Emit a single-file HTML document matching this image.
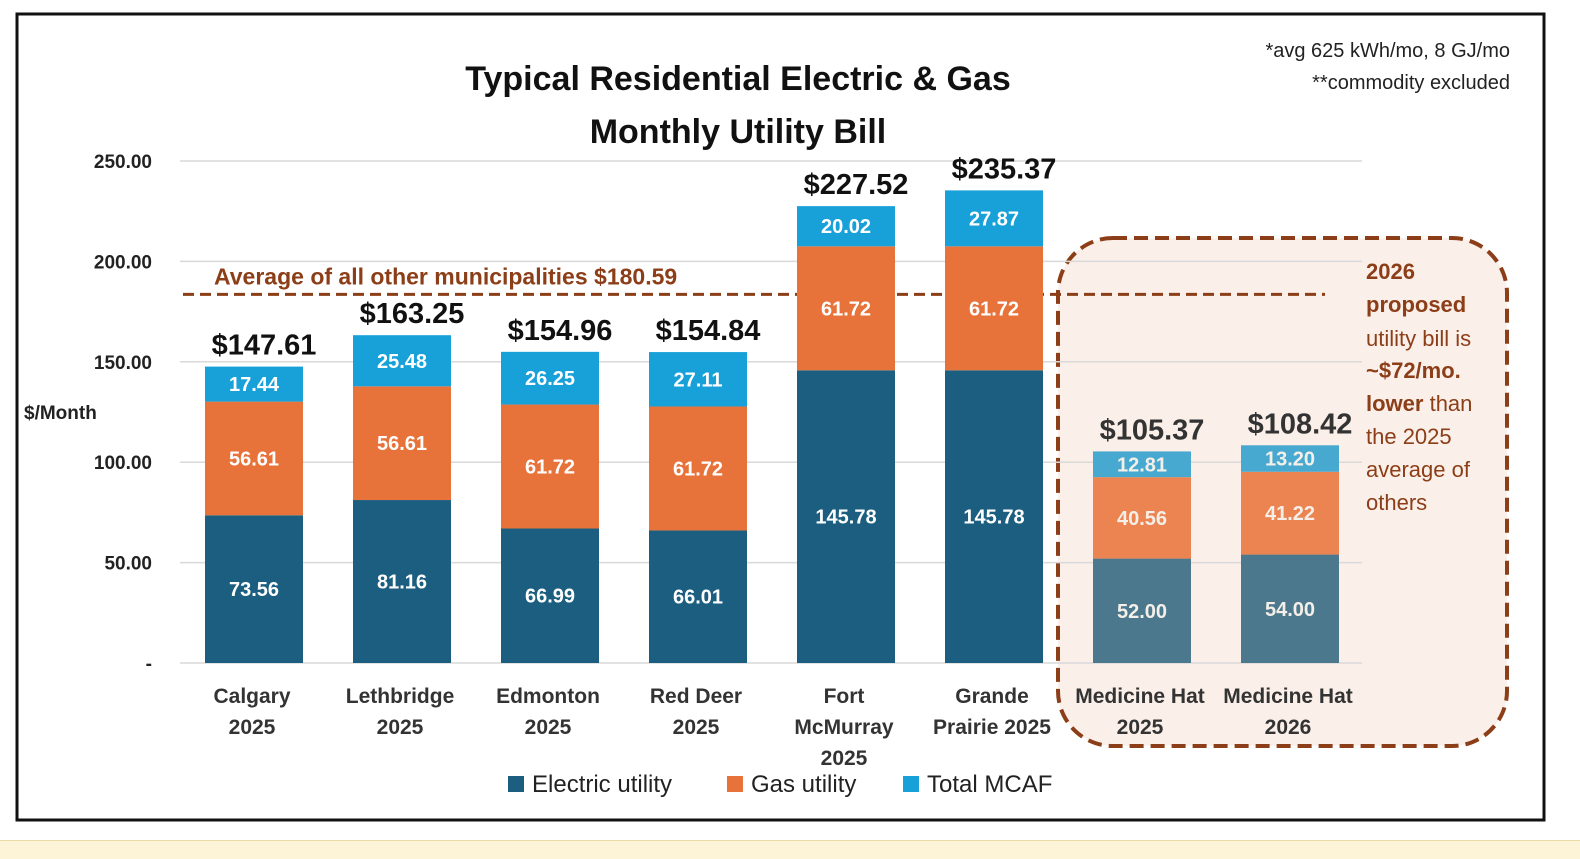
<!DOCTYPE html>
<html><head><meta charset="utf-8">
<style>
body{margin:0;width:1580px;height:858px;background:#fff;overflow:hidden;font-family:"Liberation Sans",sans-serif;}
#strip{position:absolute;left:0;top:840px;width:1580px;height:18px;background:#fdf3d6;border-top:1px solid #e8d9a8;}
</style></head><body>
<div id="strip"></div>
<svg id="chart" width="1580" height="840" style="position:absolute;left:0;top:0">
<rect x="17" y="14" width="1527" height="806" fill="#fff" stroke="#111" stroke-width="3"/>
<rect x="1058" y="238" width="449" height="508" rx="55" fill="#fbefe9" stroke="#8b3e17" stroke-width="4" stroke-dasharray="14,7"/>
<text x="738" y="90" text-anchor="middle" font-size="34" font-weight="bold" fill="#111">Typical Residential Electric &amp; Gas</text>
<text x="738" y="143" text-anchor="middle" font-size="34" font-weight="bold" fill="#111">Monthly Utility Bill</text>
<text x="1510" y="57" text-anchor="end" font-size="20" fill="#222">*avg 625 kWh/mo, 8 GJ/mo</text>
<text x="1510" y="89" text-anchor="end" font-size="20" fill="#222">**commodity excluded</text>
<text x="24" y="419" font-size="19" font-weight="bold" fill="#222">$/Month</text>
<g id="grid"></g><g id="bars"></g>
<g font-size="22" fill="#8b3e17">
<text x="1366" y="279" font-weight="bold">2026</text>
<text x="1366" y="312" font-weight="bold">proposed</text>
<text x="1366" y="346">utility bill is</text>
<text x="1366" y="378" font-weight="bold">~$72/mo.</text>
<text x="1366" y="411"><tspan font-weight="bold">lower</tspan> than</text>
<text x="1366" y="444">the 2025</text>
<text x="1366" y="477">average of</text>
<text x="1366" y="510">others</text>
</g>
<g id="legend" font-size="24" fill="#222">
<rect x="508" y="776" width="16" height="16" fill="#1b5e7f"/>
<text x="532" y="792">Electric utility</text>
<rect x="727" y="776" width="16" height="16" fill="#e8733a"/>
<text x="751" y="792">Gas utility</text>
<rect x="903" y="776" width="16" height="16" fill="#18a0d8"/>
<text x="927" y="792">Total MCAF</text>
</g>
</svg>
<script>
const categories=[["Calgary","2025"],["Lethbridge","2025"],["Edmonton","2025"],["Red Deer","2025"],["Fort","McMurray","2025"],["Grande","Prairie 2025"],["Medicine Hat","2025"],["Medicine Hat","2026"]];
const electric=[73.56,81.16,66.99,66.01,145.78,145.78,52.00,54.00];
const gas=[56.61,56.61,61.72,61.72,61.72,61.72,40.56,41.22];
const mcaf=[17.44,25.48,26.25,27.11,20.02,27.87,12.81,13.20];
const totals=["$147.61","$163.25","$154.96","$154.84","$227.52","$235.37","$105.37","$108.42"];
const yTicks=[0,50,100,150,200,250];
const yTickLabels=["-","50.00","100.00","150.00","200.00","250.00"];
const average=180.59;
const NS="http://www.w3.org/2000/svg";
const y=v=>663-v*2.008;
const x=i=>254+i*148;
const bw=98;
function mk(tag,attrs,parent,txt){const e=document.createElementNS(NS,tag);for(const k in attrs)e.setAttribute(k,attrs[k]);if(txt!==undefined)e.textContent=txt;parent.appendChild(e);return e;}
const grid=document.getElementById('grid'),bars=document.getElementById('bars');
yTicks.forEach((t,i)=>{
 const l=mk('line',{x1:180,x2:1362,y1:y(t),y2:y(t),stroke:'#d9d9d9','stroke-width':1.5},grid);
 
 
 const tx=mk('text',{x:152,y:y(t)+7,'text-anchor':'end','font-size':19,'font-weight':'bold',fill:'#222'},grid,yTickLabels[i]);
 
 
});
const avL=mk('line',{x1:183,x2:1325,y1:y(average)-6,y2:y(average)-6,stroke:'#8b3e17','stroke-width':3,'stroke-dasharray':'11,6'},bars);


const avT=mk('text',{x:214,y:y(average)-16,'font-size':23,'font-weight':'bold',fill:'#8b3e17'},bars,'Average of all other municipalities $'+average.toFixed(2));


categories.forEach((c,i)=>{
 const mh=i>=6;
 const cols=mh?['#4b788c','#ec8452','#48a9d0']:['#1b5e7f','#e8733a','#18a0d8'];
 const vals=[electric[i],gas[i],mcaf[i]];
 const names=['electric','gas','mcaf'];
 let base=0;
 vals.forEach((v,k)=>{
  const r=mk('rect',{x:x(i)-bw/2,y:y(base+v),width:bw,height:v*2.008,fill:cols[k]},bars);
  
  
  const t=mk('text',{x:x(i),y:y(base+v/2)+7,'text-anchor':'middle','font-size':20,'font-weight':'bold',fill:mh?'#f5efe9':'#fff'},bars,v.toFixed(2));
  
  
  base+=v;
 });
 const tt=mk('text',{x:x(i)+10,y:y(base)-12,'text-anchor':'middle','font-size':29,'font-weight':'bold',fill:mh?'#333':'#111'},bars,totals[i]);
 
 
 c.forEach((line,j)=>{
  const ct=mk('text',{x:x(i)-2,y:703+j*31,'text-anchor':'middle','font-size':21,'font-weight':'bold',fill:'#333'},bars,line);
  
  
 });
});
</script>
</body></html>
